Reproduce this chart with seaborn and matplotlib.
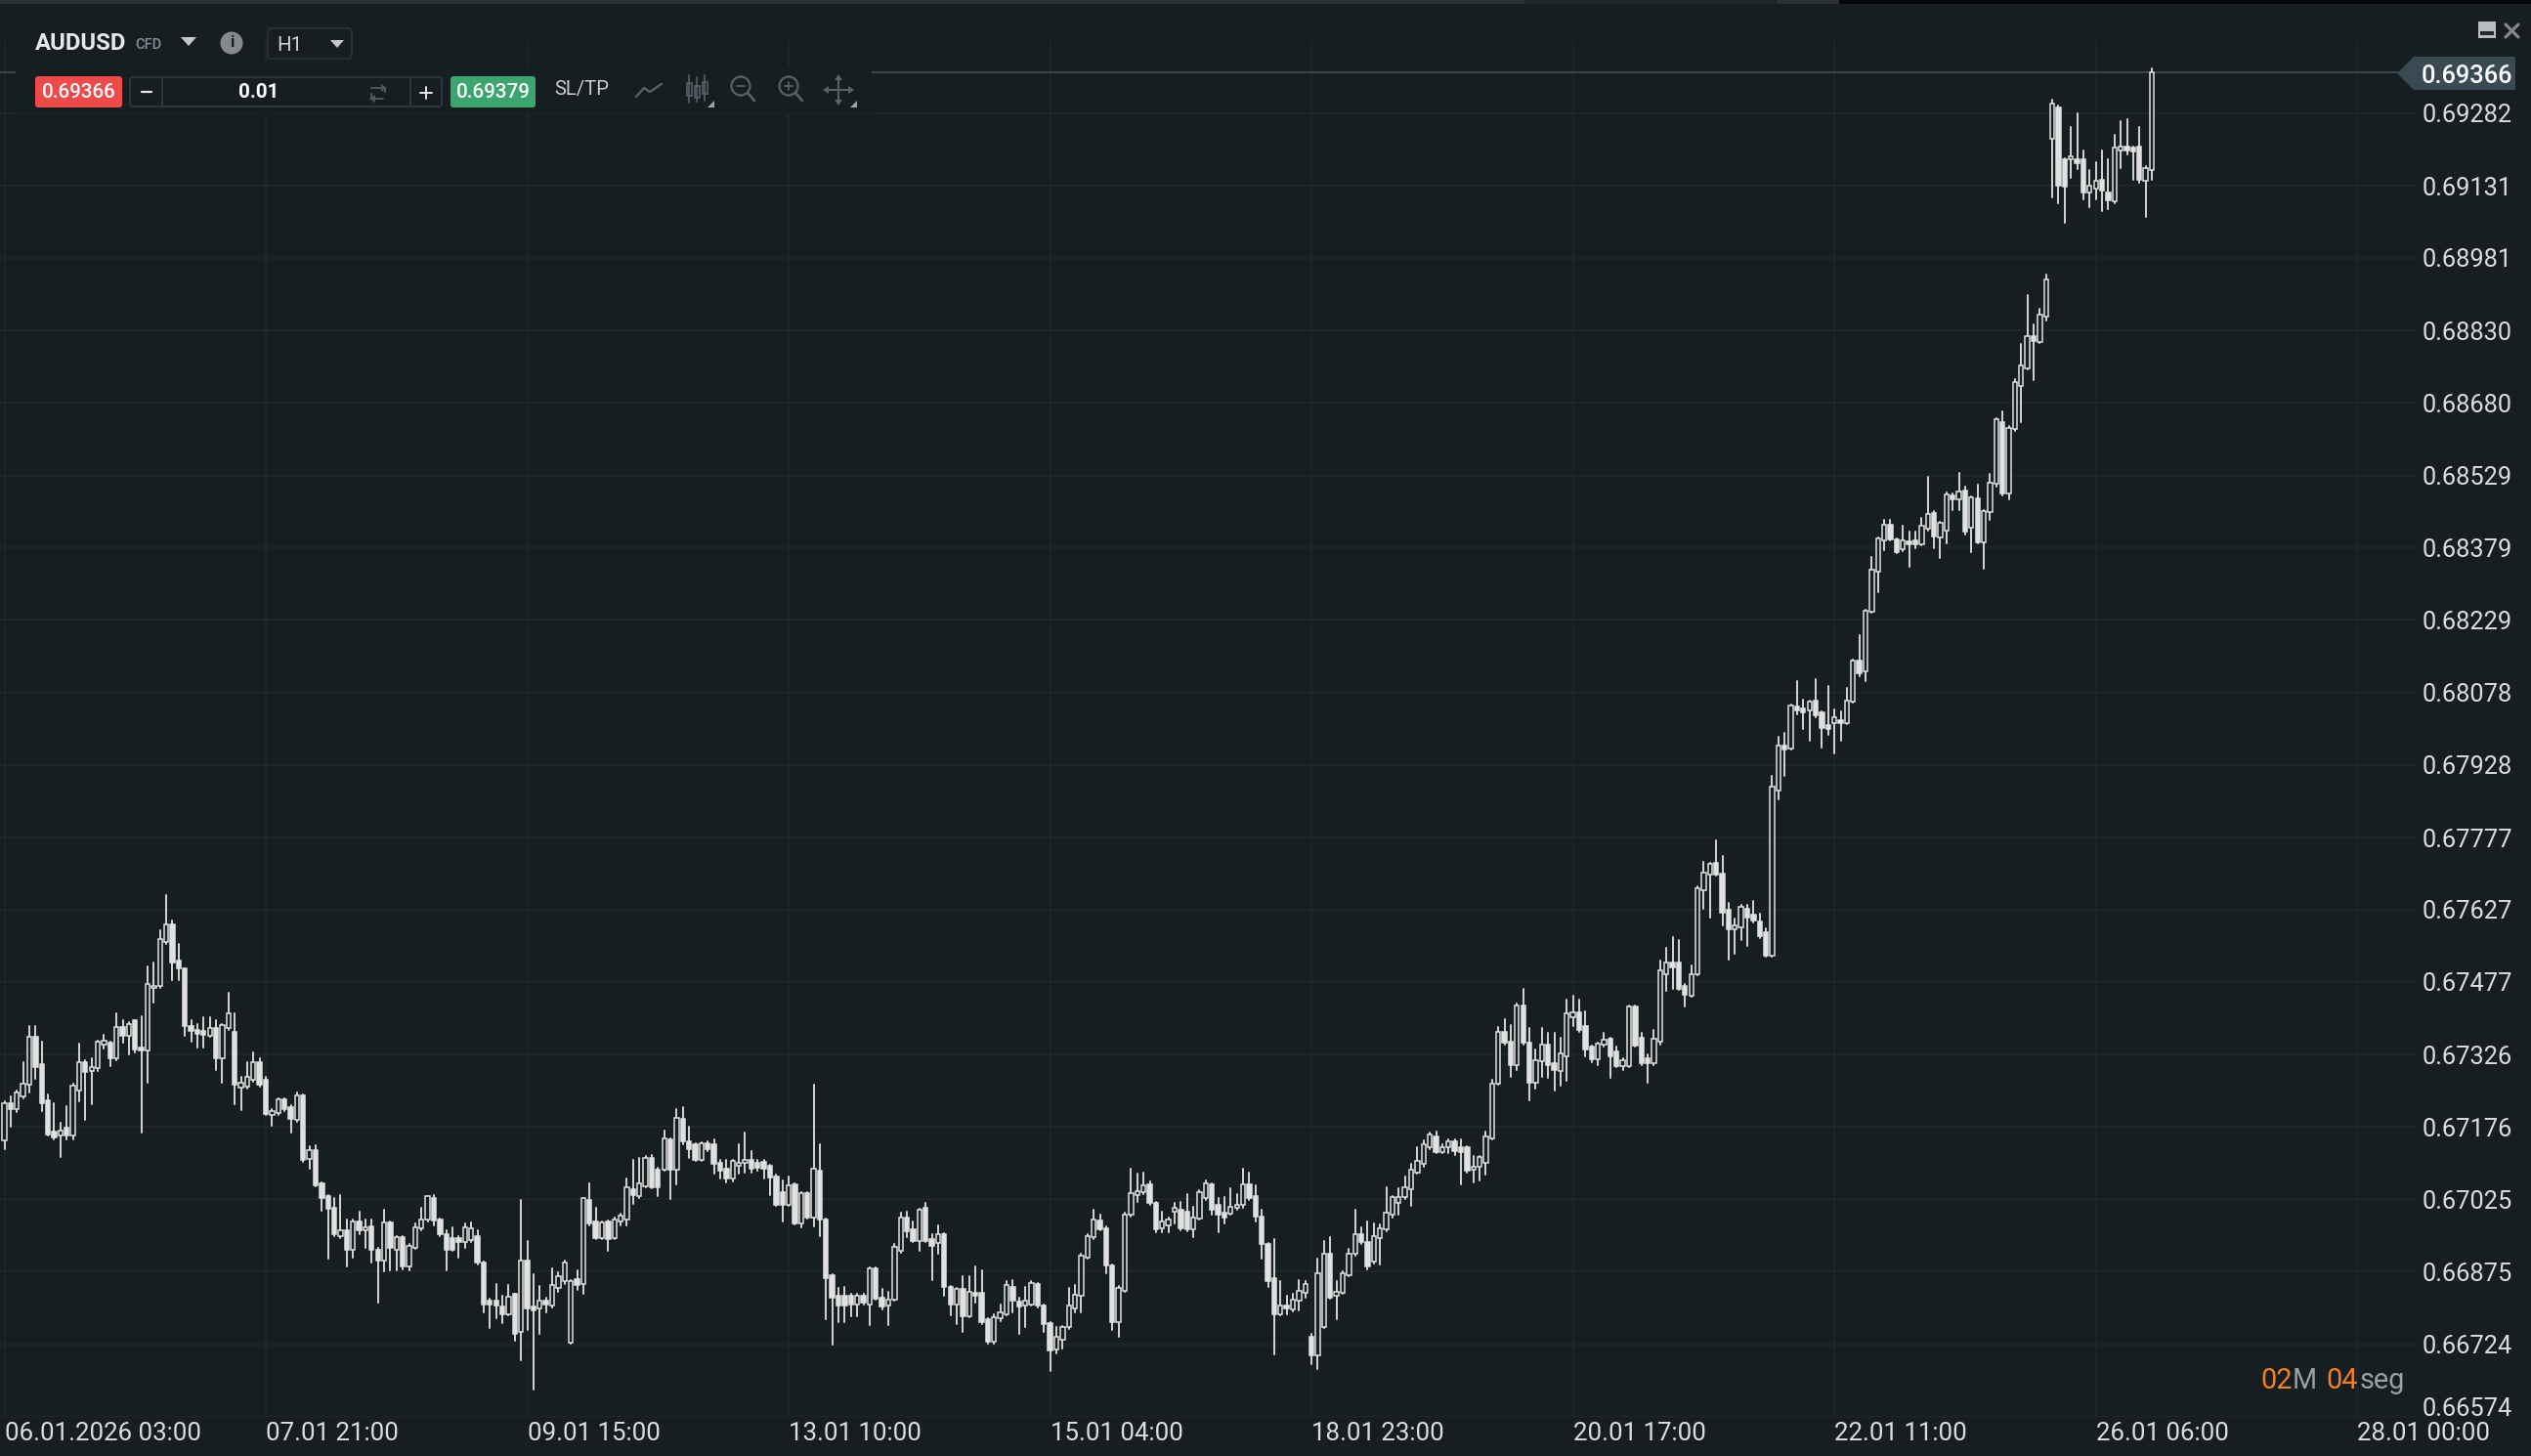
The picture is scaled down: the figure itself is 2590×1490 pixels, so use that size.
import numpy as np
import pandas as pd
import seaborn as sns
import matplotlib
matplotlib.use("Agg")
import matplotlib.pyplot as plt
from matplotlib.patches import Rectangle, FancyBboxPatch, Polygon, Circle
from matplotlib.lines import Line2D
from matplotlib.transforms import Affine2D, ScaledTranslation

# Hourly candles, price x 1e5
opens = [
67147,67224,67213,67240,67264,67363,67307,67231,67165,67157,
67175,67157,67252,67311,67292,67297,67347,67351,67318,67384,
67365,67397,67341,67335,67465,67469,67560,67596,67521,67505,
67386,67378,67375,67365,67382,67318,67382,67373,67258,67260,
67273,67311,67273,67201,67205,67232,67217,67191,67242,67110,
67128,67059,67033,67007,66949,66960,66920,66980,66960,66970,
66920,66897,66977,66920,66946,66886,66924,66964,66983,67028,
66983,66952,66944,66944,66936,66940,66948,66893,66814,66814,
66802,66786,66828,66750,66897,66802,66798,66815,66804,66841,
66855,66728,66859,66849,67023,66980,66944,66980,66944,66980,
66983,67047,67031,67052,67112,67086,67086,67149,67086,67193,
67146,67139,67107,67141,67139,67102,67088,67068,67095,67102,
67108,67102,67103,67094,67073,67041,67014,67056,66976,67039,
66987,67085,66983,66868,66824,66824,66824,66807,66824,66807,
66882,66821,66804,66816,66919,66987,66963,66939,67007,66943,
66934,66953,66844,66807,66839,66783,66831,66831,66777,66729,
66778,66787,66844,66812,66804,66807,66850,66805,66769,66714,
66733,66760,66798,66824,66905,66946,66982,66966,66888,66770,
66836,66993,67034,67041,67056,67017,66966,66972,66999,67003,
67000,66963,66985,67027,67056,67014,66997,66995,67007,67014,
67056,67031,66990,66932,66861,66787,66805,66797,66814,66831,
66739,66701,66760,66912,66824,66830,66868,66912,66953,66936,
66896,66945,66962,66994,67018,67029,67046,67081,67098,67133,
67156,67123,67133,67146,67133,67133,67086,67092,67102,67151,
67265,67374,67353,67305,67428,67350,67268,67312,67347,67308,
67291,67322,67404,67414,67386,67343,67316,67346,67358,67332,
67301,67302,67425,67360,67318,67308,67353,67493,67518,67518,
67469,67449,67493,67668,67699,67725,67701,67627,67587,67591,
67629,67616,67602,67580,67532,67874,67967,67961,68049,68045,
68041,68062,68036,68010,68014,68020,68014,68059,68144,68123,
68247,68329,68395,68426,68396,68375,68392,68395,68387,68418,
68451,68401,68414,68488,68480,68497,68420,68482,68391,68453,
68511,68640,68492,68626,68714,68751,68819,68806,68859,69229,
69293,69185,69185,69186,69185,69117,69125,69143,69117,69098,
69205,69213,69210,69212,69141,69164]
highs = [
67228,67240,67252,67311,67385,67385,67352,67244,67224,67185,
67218,67265,67348,67315,67319,67355,67367,67352,67412,67398,
67394,67398,67406,67510,67518,67584,67657,67604,67555,67506,
67398,67389,67404,67404,67397,67389,67454,67412,67280,67311,
67331,67319,67280,67213,67235,67236,67220,67247,67244,67136,
67138,67060,67035,67027,67035,66983,66983,66999,66983,66983,
66924,67003,66980,66948,66948,66932,66976,67007,67033,67035,
66986,66960,66968,66948,66976,66978,66960,66896,66818,66849,
66825,66847,66829,67023,66938,66869,66845,66820,66881,66873,
66897,66858,66877,67028,67059,67007,66980,66982,66987,66995,
67068,67108,67112,67115,67118,67090,67169,67152,67213,67217,
67176,67142,67143,67145,67149,67108,67108,67108,67139,67163,
67125,67108,67108,67096,67076,67064,67073,67058,67041,67041,
67264,67139,66985,66870,66841,66844,66828,66828,66828,66884,
66884,66839,66834,66932,66997,67000,66980,67005,67017,66953,
66972,66955,66846,66842,66866,66865,66885,66878,66779,66787,
66807,66855,66858,66821,66844,66855,66851,66807,66770,66760,
66763,66841,66848,66912,66953,67003,66993,66970,66890,66845,
66997,67089,67078,67081,67062,67020,66999,66987,67017,67020,
67037,67010,67044,67065,67058,67027,67029,67048,67037,67089,
67081,67054,67003,66934,66943,66855,66824,66828,66857,66855,
66746,66902,66939,66946,66855,66875,66922,67003,66968,66980,
66976,66973,67051,67033,67048,67072,67098,67133,67147,67163,
67165,67140,67149,67149,67149,67135,67116,67116,67165,67273,
67383,67400,67388,67432,67462,67381,67336,67381,67371,67372,
67360,67441,67449,67441,67416,67345,67351,67371,67360,67343,
67318,67428,67427,67372,67326,67378,67521,67547,67570,67563,
67472,67511,67676,67727,67725,67771,67738,67641,67608,67637,
67637,67645,67618,67588,67905,67987,67995,68054,68101,68064,
68062,68106,68039,68092,68044,68039,68088,68146,68197,68251,
68360,68401,68437,68437,68398,68424,68412,68412,68441,68527,
68456,68433,68494,68492,68535,68505,68486,68510,68458,68533,
68647,68663,68632,68730,68802,68903,68842,68876,68947,69310,
69297,69187,69253,69281,69204,69163,69179,69204,69185,69236,
69265,69269,69212,69253,69172,69375]
lows = [
67130,67177,67207,67236,67248,67276,67209,67157,67149,67114,
67149,67149,67228,67190,67223,67292,67339,67303,67315,67351,
67327,67331,67163,67268,67434,67465,67556,67481,67481,67365,
67352,67341,67341,67363,67293,67268,67378,67223,67211,67256,
67270,67260,67201,67179,67201,67209,67163,67187,67104,67089,
67052,67002,66902,66948,66944,66886,66904,66952,66924,66893,
66810,66875,66878,66878,66880,66877,66922,66960,66980,66972,
66949,66877,66918,66904,66924,66936,66890,66790,66757,66778,
66768,66784,66731,66691,66754,66630,66746,66790,66800,66833,
66850,66726,66837,66829,66972,66942,66942,66918,66942,66972,
66972,67015,67027,67050,67049,67031,67084,67025,67057,67140,
67112,67105,67105,67125,67078,67068,67061,67062,67078,67081,
67081,67085,67068,67034,67012,66980,67012,66974,66968,66985,
66970,66949,66777,66724,66770,66770,66783,66783,66807,66764,
66817,66797,66764,66814,66915,66946,66936,66919,66937,66858,
66912,66824,66785,66767,66750,66780,66810,66767,66726,66726,
66773,66784,66790,66746,66760,66805,66800,66750,66668,66706,
66716,66756,66790,66790,66903,66942,66960,66871,66753,66739,
66834,66990,67020,67037,67013,66956,66956,66956,66976,66961,
66959,66947,66983,67024,66993,66956,66976,66993,67003,67007,
67024,66980,66902,66844,66704,66785,66787,66792,66794,66821,
66682,66672,66758,66819,66777,66828,66865,66909,66932,66880,
66892,66890,66959,66987,66994,67026,67011,67078,67093,67130,
67121,67121,67121,67118,67057,67081,67060,67065,67076,67149,
67263,67346,67280,67293,67346,67231,67256,67279,67277,67252,
67261,67272,67385,67374,67322,67311,67305,67343,67277,67300,
67293,67300,67343,67304,67267,67304,67346,67458,67463,67461,
67425,67447,67490,67629,67610,67697,67594,67524,67536,67563,
67552,67600,67568,67530,67530,67857,67905,67959,68033,68003,
67979,68026,67963,67991,67952,67979,68012,68057,68113,68101,
68243,68287,68373,68394,68368,68371,68340,68378,68385,68414,
68378,68357,68389,68457,68457,68406,68370,68389,68336,68437,
68505,68488,68479,68622,68640,68749,68727,68804,68851,69107,
69095,69053,69147,69166,69102,69086,69103,69078,69082,69095,
69168,69197,69143,69137,69066,69144]
closes = [
67224,67213,67247,67265,67363,67299,67224,67160,67153,67169,
67157,67262,67311,67289,67299,67352,67355,67318,67384,67365,
67390,67337,67335,67473,67469,67566,67596,67518,67505,67386,
67375,67368,67367,67382,67318,67387,67412,67264,67268,67280,
67311,67264,67203,67209,67232,67213,67193,67242,67107,67128,
67055,67028,67005,66952,66960,66920,66980,66960,66968,66920,
66897,66977,66924,66946,66886,66928,66968,66983,67031,66981,
66952,66920,66920,66936,66968,66964,66893,66806,66806,66804,
66786,66822,66746,66897,66799,66794,66814,66806,66847,66865,
66893,66855,66847,67027,66976,66944,66978,66942,66983,66991,
67051,67035,67058,67112,67051,67051,67152,67086,67194,67146,
67129,67107,67141,67129,67098,67085,67068,67105,67102,67108,
67088,67091,67088,67071,67014,67014,67054,66976,67039,66987,
67088,66983,66861,66821,66804,66805,66807,66824,66811,66882,
66819,66802,66817,66926,66987,66959,66938,67003,66939,66929,
66953,66844,66807,66839,66783,66834,66824,66771,66729,66780,
66790,66848,66814,66802,66814,66851,66804,66766,66712,66739,
66760,66804,66827,66909,66949,66983,66963,66888,66770,66841,
66993,67039,67042,67054,67017,66963,66980,66983,67007,66965,
66963,66987,67041,67058,67003,66993,66987,67010,67014,67056,
67027,66990,66932,66855,66787,66805,66798,66817,66836,66850,
66702,66871,66912,66821,66834,66871,66912,66953,66936,66885,
66948,66966,66997,67029,67029,67050,67086,67105,67140,67160,
67123,67133,67146,67126,67123,67085,67093,67113,67156,67265,
67374,67350,67305,67428,67350,67268,67314,67347,67305,67294,
67329,67411,67414,67378,67337,67316,67349,67357,67322,67302,
67315,67425,67344,67309,67308,67358,67500,67518,67507,67463,
67451,67493,67672,67703,67723,67699,67621,67587,67594,67633,
67611,67604,67573,67532,67882,67967,67960,68051,68041,68037,
68059,68030,68005,68002,68026,68014,68062,68144,68119,68249,
68334,68399,68427,68396,68370,68395,68386,68387,68424,68449,
68402,68430,68490,68480,68496,68412,68483,68391,68455,68513,
68645,68492,68628,68724,68758,68819,68809,68863,68937,69301,
69132,69130,69192,69178,69117,69131,69141,69120,69100,69210,
69212,69205,69202,69144,69168,69366]

y_labels = ["0.69282","0.69131","0.68981","0.68830","0.68680","0.68529","0.68379",
            "0.68229","0.68078","0.67928","0.67777","0.67627","0.67477","0.67326",
            "0.67176","0.67025","0.66875","0.66724","0.66574"]
x_tick_bars = [0,42,84,126,168,210,252,294,336,378]
x_labels = ["06.01.2026 03:00","07.01 21:00","09.01 15:00","13.01 10:00","15.01 04:00",
            "18.01 23:00","20.01 17:00","22.01 11:00","26.01 06:00","28.01 00:00"]
last_price = 0.69366

assert len(opens) == len(highs) == len(lows) == len(closes), (len(opens), len(highs), len(lows), len(closes))

BG = "#171e21"
GRID = "#20282c"
TXT = "#dcdcdc"
CANDLE = "#e0e0e0"
WICK = "#cfcfcf"

sns.set_theme(style="dark", rc={"figure.facecolor": BG, "axes.facecolor": BG, "savefig.facecolor": BG})
plt.rcParams["font.family"] = ["Roboto", "DejaVu Sans"]

W, H = 2590, 1490
fig = plt.figure(figsize=(W / 100, H / 100), dpi=100)
ax = fig.add_axes([0, (H - 1449.6) / H, 2474 / W, (1449.6 - 42) / H])

df = pd.DataFrame({"bar": np.arange(len(opens)), "o": opens, "h": highs, "l": lows, "c": closes})
for col in "ohlc":
    df[col] = df[col] / 1e5
wicks = df.melt(id_vars="bar", value_vars=["l", "h"], value_name="price")
sns.lineplot(data=wicks, x="bar", y="price", units="bar", estimator=None, sort=False,
             color=WICK, linewidth=1.45, legend=False, ax=ax, zorder=2)

up = df["c"] >= df["o"]
ax.bar(df["bar"], (df["c"] - df["o"]).abs(), bottom=df[["o", "c"]].min(axis=1), width=0.68,
       color=[BG if u else CANDLE for u in up], edgecolor=CANDLE, linewidth=1.1, zorder=3)

ax.set_xlim(-0.707, 387.7)
ax.set_ylim(0.66574, 0.694316)
ax.set_xticks(x_tick_bars)
ax.set_xticklabels(x_labels)
ax.set_yticks([float(v) for v in y_labels])
ax.set_yticklabels(y_labels, va="center")
ax.yaxis.tick_right()
ax.set_xlabel("")
ax.set_ylabel("")
ax.grid(True, color=GRID, linewidth=1.1)
ax.set_axisbelow(True)
ax.tick_params(axis="both", length=0, labelcolor=TXT)
ax.tick_params(axis="x", pad=4.2, labelsize=18.6)
ax.tick_params(axis="y", pad=3, labelsize=18.3)
for lab in ax.get_xticklabels():
    lab.set_ha("left")
ylabs = ax.get_yticklabels()
for n, lab in enumerate(ylabs):
    lab.set_va("center")
    shift = 7.5 if n == len(ylabs) - 1 else -2.5
    lab.set_transform(lab.get_transform() + ScaledTranslation(0, shift / 100, fig.dpi_scale_trans))
for s in ax.spines.values():
    s.set_visible(False)

# pixel transform for the platform's interface
T = Affine2D().scale(1, -1).translate(0, H)

def rect(x0, y0, x1, y1, fc, ec="none", lw=0, r=0, z=5):
    if r:
        p = FancyBboxPatch((x0, y0), x1 - x0, y1 - y0, boxstyle=f"round,pad=0,rounding_size={r}",
                           fc=fc, ec=ec, lw=lw, transform=T, zorder=z)
    else:
        p = Rectangle((x0, y0), x1 - x0, y1 - y0, fc=fc, ec=ec, lw=lw, transform=T, zorder=z)
    fig.add_artist(p)

def poly(pts, fc, z=6):
    fig.add_artist(Polygon(pts, closed=True, fc=fc, ec="none", transform=T, zorder=z))

def line(xs, ys, c, lw=1.4, z=6):
    fig.add_artist(Line2D(xs, ys, color=c, lw=lw, transform=T, zorder=z, solid_capstyle="round"))

def txt(x, y, s, size, c, ha="left", weight="normal"):
    fig.text(x, y, s, transform=T, fontsize=size, color=c, ha=ha, va="center", weight=weight, zorder=8)

# top strip
rect(0, 0, 1560, 4, "#2a3236")
rect(1560, 0, 1818, 4, "#20272b")
rect(1818, 0, 1882, 4, "#2a3236")
rect(1882, 0, W, 4, "#050607")

# current price line and tag
ax.axhline(last_price, color="#3d4b53", linewidth=1.3, zorder=1)
poly([(2453, 75), (2470, 58), (2574, 58), (2574, 92), (2470, 92)], "#3a4a53")
txt(2478, 78, "0.69366", 18.3, "#ffffff", weight="medium")

# toolbar
rect(16, 68, 892, 116, BG, z=4)
txt(36, 44.5, "AUDUSD", 17.2, "#e8e8e8", weight="bold")
txt(138, 45.5, "CFD", 10.5, "#7f8f99", weight="medium")
poly([(185, 38), (201, 38), (193, 47)], "#c4c8ca")
fig.add_artist(Circle((237, 44), 11.5, fc="#85898c", ec="none", transform=T, zorder=6))
txt(237, 44, "i", 12, BG, ha="center", weight="bold")
rect(274, 29, 360, 60, "none", ec="#293135", lw=1.3, r=4)
txt(283, 46, "H1", 14.8, "#d2d2d2")
poly([(338, 41), (352, 41), (345, 49)], "#c4c8ca")

rect(36, 78, 125, 110, "#ef4a4a", r=3)
txt(80.5, 94, "0.69366", 14.8, "#ffffff", ha="center", weight="medium")
rect(133, 79, 452, 109, "none", ec="#2d363b", lw=1.5, r=3)
line([166, 166], [79, 109], "#2d363b")
line([420, 420], [79, 109], "#2d363b")
line([145, 155], [94, 94], "#e8e8e8", lw=1.6)
txt(265, 94, "0.01", 14.8, "#ffffff", ha="center", weight="bold")
line([430, 442], [95, 95], "#e8e8e8", lw=1.4)
line([436, 436], [89, 101], "#e8e8e8", lw=1.4)
line([380, 394, 394], [90, 90, 94], "#4d575c", lw=1.4)
line([392, 380, 380], [101, 101, 96], "#4d575c", lw=1.4)
poly([(390, 86), (396, 90), (390, 94)], "#4d575c")
poly([(384, 97), (378, 101), (384, 105)], "#4d575c")
rect(461, 78, 548, 110, "#3aa66e", r=3)
txt(504.5, 94, "0.69379", 14.8, "#ffffff", ha="center", weight="medium")
txt(567, 91.5, "SL/TP", 14.6, "#c8cccc")

ICON = "#566268"
line([651, 659, 665, 677], [99, 90, 94, 86], ICON, lw=1.7)
for x, top, y0, y1, bot in [(705, 77, 85, 98, 105), (713, 79, 88, 100, 104), (721, 77, 84, 96, 103)]:
    line([x, x], [top, bot], ICON, lw=1.2)
    rect(x - 2.5, y0, x + 2.5, y1, "none", ec=ICON, lw=1.2)
for cx, plus in [(758, False), (807, True)]:
    fig.add_artist(Circle((cx, 88), 9.5, fc="none", ec=ICON, lw=1.6, transform=T, zorder=6))
    line([cx + 7, cx + 14], [95, 103], ICON, lw=1.9)
    line([cx - 4, cx + 4], [88, 88], ICON, lw=1.3)
    if plus:
        line([cx, cx], [84, 92], ICON, lw=1.3)
line([844, 872], [92, 92], ICON, lw=1.5)
line([858, 858], [78, 106], ICON, lw=1.5)
poly([(858, 76), (854, 82), (862, 82)], ICON)
poly([(858, 108), (854, 102), (862, 102)], ICON)
poly([(842, 92), (848, 88), (848, 96)], ICON)
poly([(874, 92), (868, 88), (868, 96)], ICON)
poly([(724, 110), (731, 110), (731, 103)], "#9aa2a6")
poly([(870, 110), (877, 110), (877, 103)], "#9aa2a6")

# window controls
rect(2536, 22, 2554, 39, "#b9bdc0")
rect(2538, 32, 2552, 36, "#23292d")
line([2564, 2577], [25, 38], "#83888b", lw=2.3)
line([2577, 2564], [25, 38], "#83888b", lw=2.3)

# countdown
ORANGE = "#f08020"
GREY = "#97a1a6"
txt(2313, 1413, "02", 20.8, ORANGE)
txt(2346, 1413, "M", 20.8, GREY)
txt(2380, 1413, "04", 20.8, ORANGE)
txt(2415, 1413, "seg", 20.8, GREY)

fig.savefig("out.png", dpi=100, facecolor=BG)
